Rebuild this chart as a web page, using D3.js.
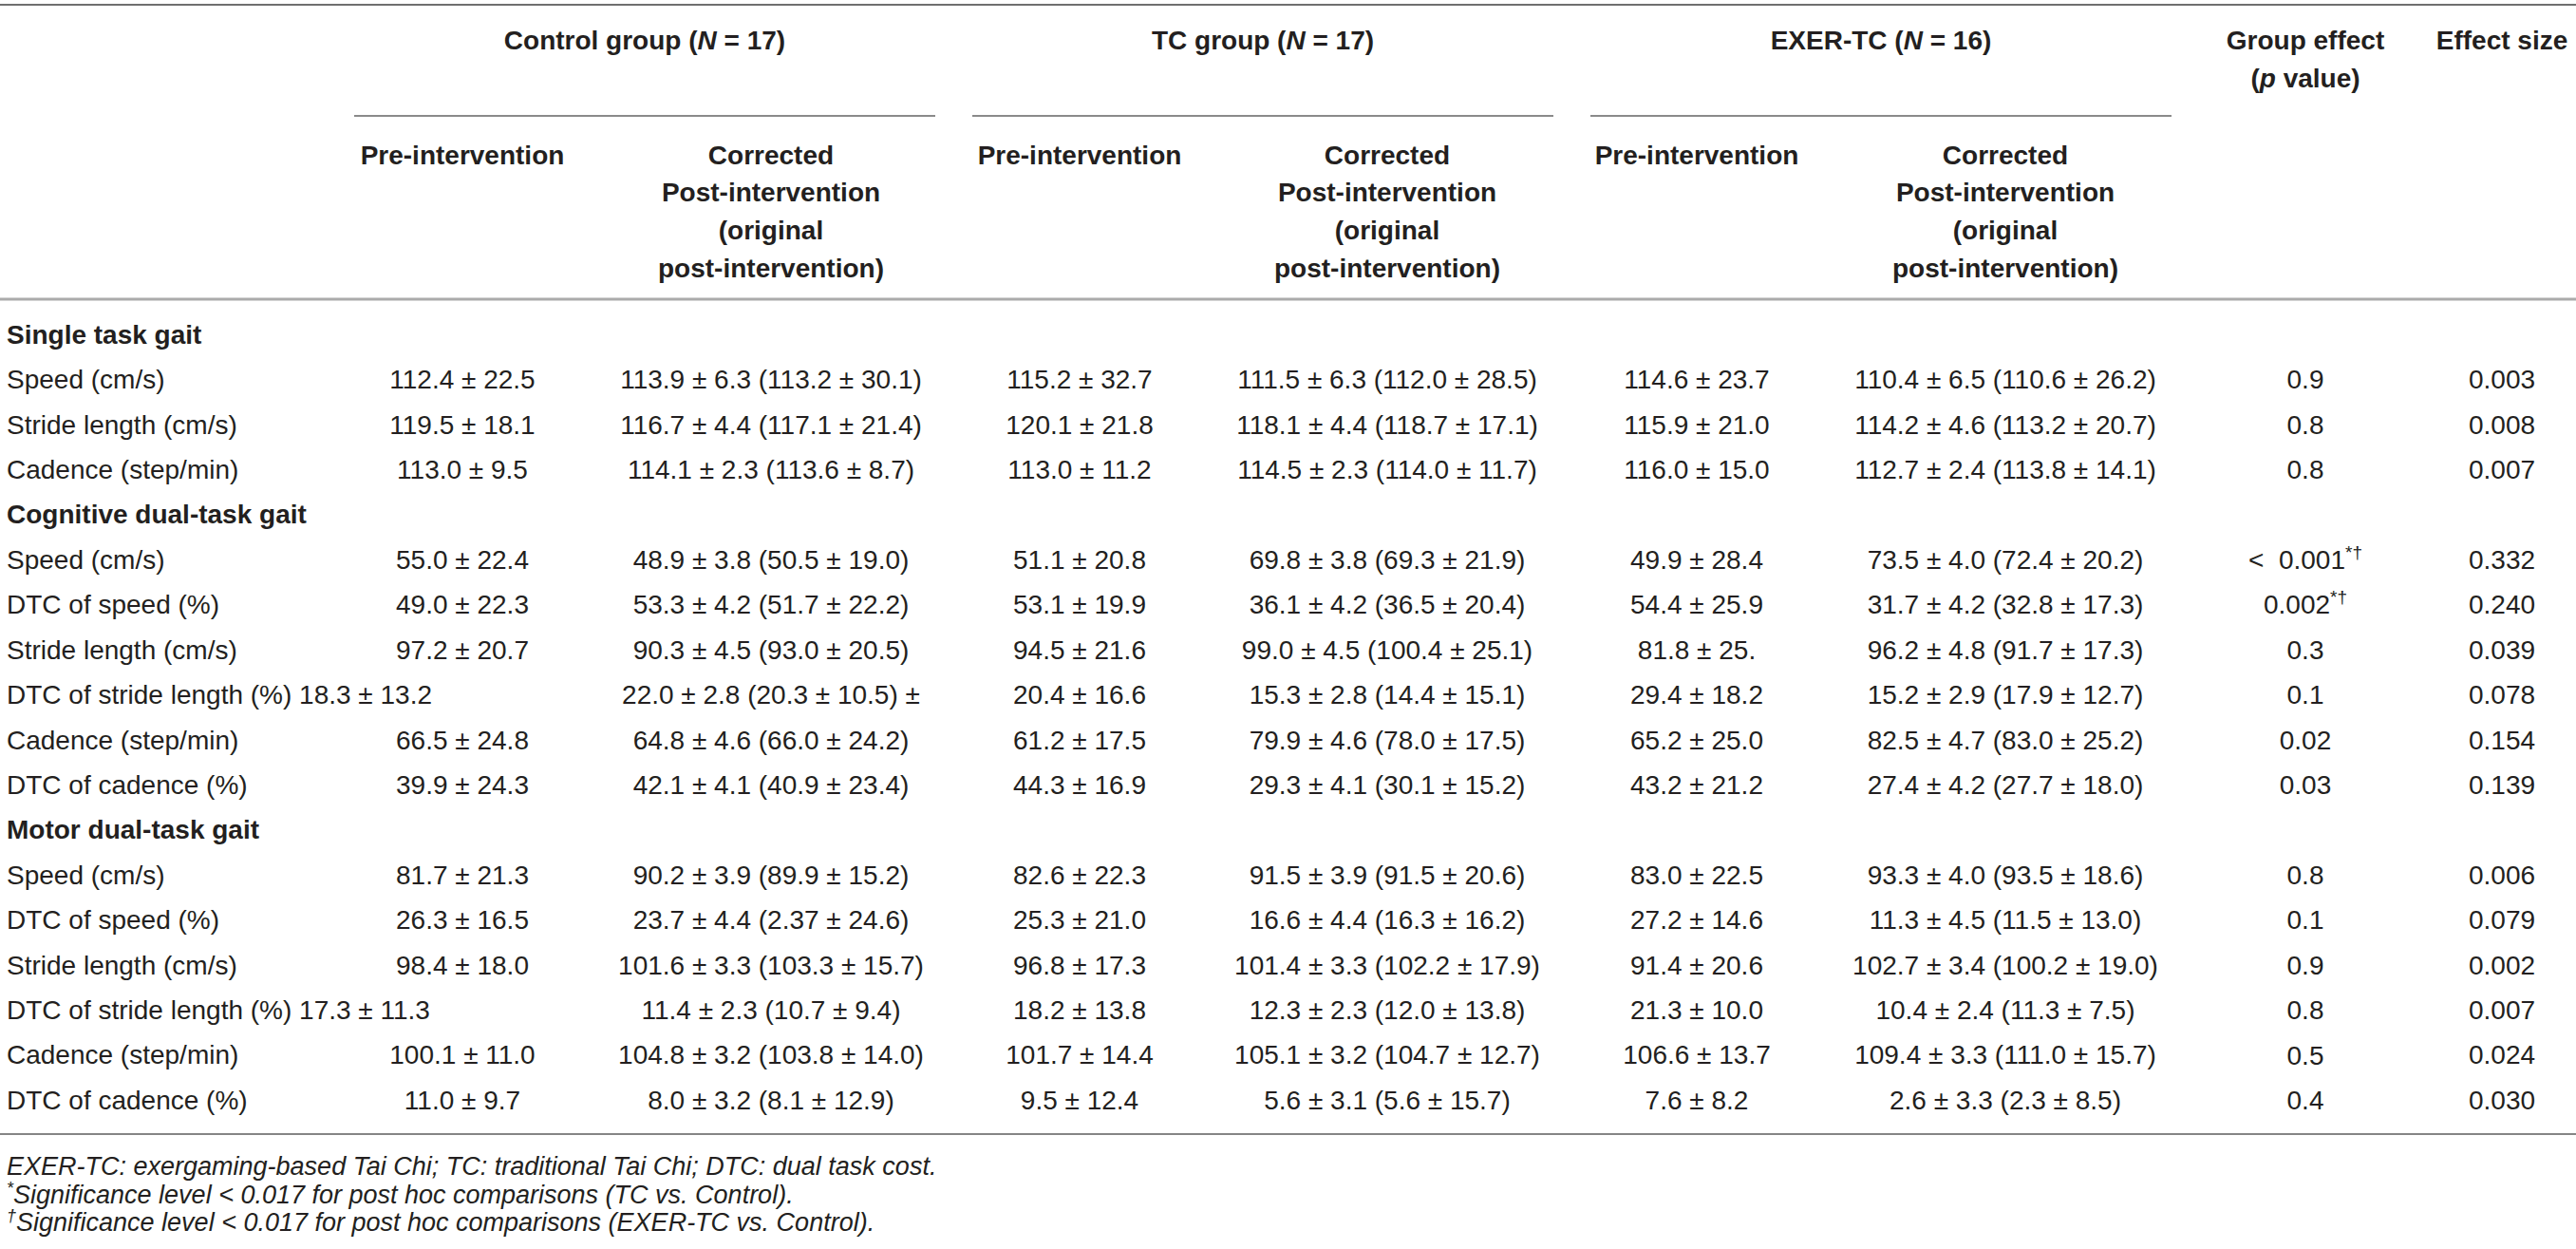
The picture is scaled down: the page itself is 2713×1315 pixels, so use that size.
<!DOCTYPE html>
<html>
<head>
<meta charset="utf-8">
<script src="https://cdn.jsdelivr.net/npm/d3@7"></script>
<style>
  html, body { margin: 0; padding: 0; background: #ffffff; }
  svg { display: block; }
  text { font-family: "Liberation Sans", Arial, Helvetica, sans-serif; fill: #231f20; }
</style>
</head>
<body>
<svg id="chart" width="2713" height="1315"></svg>
<script>
// ---------------- DATA ----------------
const groupNames = ["Control group", "TC group", "EXER-TC"];
const groupN = ["17", "17", "16"];
const subHeaderPre = ["Pre-intervention"];
const subHeaderPost = ["Corrected", "Post-intervention", "(original", "post-intervention)"];

// row type: "section" = bold section title; "row" = data row
const rowTypes = ["section","row","row","row","section","row","row","row","row","row","row","section","row","row","row","row","row","row"];
const rowLabels = [
  "Single task gait", "Speed (cm/s)", "Stride length (cm/s)", "Cadence (step/min)",
  "Cognitive dual-task gait", "Speed (cm/s)", "DTC of speed (%)", "Stride length (cm/s)",
  "DTC of stride length (%) 18.3 \u00b1 13.2", "Cadence (step/min)", "DTC of cadence (%)",
  "Motor dual-task gait", "Speed (cm/s)", "DTC of speed (%)", "Stride length (cm/s)",
  "DTC of stride length (%) 17.3 \u00b1 11.3", "Cadence (step/min)", "DTC of cadence (%)"
];
const controlPre = ["", "112.4 \u00b1 22.5", "119.5 \u00b1 18.1", "113.0 \u00b1 9.5",
  "", "55.0 \u00b1 22.4", "49.0 \u00b1 22.3", "97.2 \u00b1 20.7", "", "66.5 \u00b1 24.8", "39.9 \u00b1 24.3",
  "", "81.7 \u00b1 21.3", "26.3 \u00b1 16.5", "98.4 \u00b1 18.0", "", "100.1 \u00b1 11.0", "11.0 \u00b1 9.7"];
const controlPost = ["", "113.9 \u00b1 6.3 (113.2 \u00b1 30.1)", "116.7 \u00b1 4.4 (117.1 \u00b1 21.4)", "114.1 \u00b1 2.3 (113.6 \u00b1 8.7)",
  "", "48.9 \u00b1 3.8 (50.5 \u00b1 19.0)", "53.3 \u00b1 4.2 (51.7 \u00b1 22.2)", "90.3 \u00b1 4.5 (93.0 \u00b1 20.5)",
  "22.0 \u00b1 2.8 (20.3 \u00b1 10.5) \u00b1", "64.8 \u00b1 4.6 (66.0 \u00b1 24.2)", "42.1 \u00b1 4.1 (40.9 \u00b1 23.4)",
  "", "90.2 \u00b1 3.9 (89.9 \u00b1 15.2)", "23.7 \u00b1 4.4 (2.37 \u00b1 24.6)", "101.6 \u00b1 3.3 (103.3 \u00b1 15.7)",
  "11.4 \u00b1 2.3 (10.7 \u00b1 9.4)", "104.8 \u00b1 3.2 (103.8 \u00b1 14.0)", "8.0 \u00b1 3.2 (8.1 \u00b1 12.9)"];
const tcPre = ["", "115.2 \u00b1 32.7", "120.1 \u00b1 21.8", "113.0 \u00b1 11.2",
  "", "51.1 \u00b1 20.8", "53.1 \u00b1 19.9", "94.5 \u00b1 21.6", "20.4 \u00b1 16.6", "61.2 \u00b1 17.5", "44.3 \u00b1 16.9",
  "", "82.6 \u00b1 22.3", "25.3 \u00b1 21.0", "96.8 \u00b1 17.3", "18.2 \u00b1 13.8", "101.7 \u00b1 14.4", "9.5 \u00b1 12.4"];
const tcPost = ["", "111.5 \u00b1 6.3 (112.0 \u00b1 28.5)", "118.1 \u00b1 4.4 (118.7 \u00b1 17.1)", "114.5 \u00b1 2.3 (114.0 \u00b1 11.7)",
  "", "69.8 \u00b1 3.8 (69.3 \u00b1 21.9)", "36.1 \u00b1 4.2 (36.5 \u00b1 20.4)", "99.0 \u00b1 4.5 (100.4 \u00b1 25.1)",
  "15.3 \u00b1 2.8 (14.4 \u00b1 15.1)", "79.9 \u00b1 4.6 (78.0 \u00b1 17.5)", "29.3 \u00b1 4.1 (30.1 \u00b1 15.2)",
  "", "91.5 \u00b1 3.9 (91.5 \u00b1 20.6)", "16.6 \u00b1 4.4 (16.3 \u00b1 16.2)", "101.4 \u00b1 3.3 (102.2 \u00b1 17.9)",
  "12.3 \u00b1 2.3 (12.0 \u00b1 13.8)", "105.1 \u00b1 3.2 (104.7 \u00b1 12.7)", "5.6 \u00b1 3.1 (5.6 \u00b1 15.7)"];
const exerPre = ["", "114.6 \u00b1 23.7", "115.9 \u00b1 21.0", "116.0 \u00b1 15.0",
  "", "49.9 \u00b1 28.4", "54.4 \u00b1 25.9", "81.8 \u00b1 25.", "29.4 \u00b1 18.2", "65.2 \u00b1 25.0", "43.2 \u00b1 21.2",
  "", "83.0 \u00b1 22.5", "27.2 \u00b1 14.6", "91.4 \u00b1 20.6", "21.3 \u00b1 10.0", "106.6 \u00b1 13.7", "7.6 \u00b1 8.2"];
const exerPost = ["", "110.4 \u00b1 6.5 (110.6 \u00b1 26.2)", "114.2 \u00b1 4.6 (113.2 \u00b1 20.7)", "112.7 \u00b1 2.4 (113.8 \u00b1 14.1)",
  "", "73.5 \u00b1 4.0 (72.4 \u00b1 20.2)", "31.7 \u00b1 4.2 (32.8 \u00b1 17.3)", "96.2 \u00b1 4.8 (91.7 \u00b1 17.3)",
  "15.2 \u00b1 2.9 (17.9 \u00b1 12.7)", "82.5 \u00b1 4.7 (83.0 \u00b1 25.2)", "27.4 \u00b1 4.2 (27.7 \u00b1 18.0)",
  "", "93.3 \u00b1 4.0 (93.5 \u00b1 18.6)", "11.3 \u00b1 4.5 (11.5 \u00b1 13.0)", "102.7 \u00b1 3.4 (100.2 \u00b1 19.0)",
  "10.4 \u00b1 2.4 (11.3 \u00b1 7.5)", "109.4 \u00b1 3.3 (111.0 \u00b1 15.7)", "2.6 \u00b1 3.3 (2.3 \u00b1 8.5)"];
const groupEffect = ["", "0.9", "0.8", "0.8", "", "<  0.001", "0.002", "0.3", "0.1", "0.02", "0.03",
  "", "0.8", "0.1", "0.9", "0.8", "0.5", "0.4"];
const groupEffectSup = ["", "", "", "", "", "*\u2020", "*\u2020", "", "", "", "", "", "", "", "", "", "", ""];
const effectSize = ["", "0.003", "0.008", "0.007", "", "0.332", "0.240", "0.039", "0.078", "0.154", "0.139",
  "", "0.006", "0.079", "0.002", "0.007", "0.024", "0.030"];

const footnoteSup = ["", "*", "\u2020"];
const footnoteText = [
  "EXER-TC: exergaming-based Tai Chi; TC: traditional Tai Chi; DTC: dual task cost.",
  "Significance level < 0.017 for post hoc comparisons (TC vs. Control).",
  "Significance level < 0.017 for post hoc comparisons (EXER-TC vs. Control)."
];

// ---------------- LAYOUT ----------------
const W = 2713, H = 1315;
const svg = d3.select("#chart");
const FS = 28;

const colKeys = ["cPre","cPost","tPre","tPost","ePre","ePost","p","es"];
const colX = d3.scaleOrdinal().domain(colKeys).range([487, 812, 1137, 1461, 1787, 2112, 2428, 2635]);
const groupX = d3.scaleLinear().domain([0, 2]).range([679, 1981]);
const groupRuleHalf = 306;

const yRow = d3.scaleLinear().domain([0, rowLabels.length - 1]).range([352, 1158]);
const yHead = d3.scaleLinear().domain([0, 3]).range([163, 282]);

// Rules
const rules = svg.append("g");
rules.append("line").attr("x1", 0).attr("x2", W).attr("y1", 5).attr("y2", 5)
  .attr("stroke", "#6f6f6f").attr("stroke-width", 2);
rules.append("line").attr("x1", 0).attr("x2", W).attr("y1", 315).attr("y2", 315)
  .attr("stroke", "#ababab").attr("stroke-width", 3);
rules.append("line").attr("x1", 0).attr("x2", W).attr("y1", 1194).attr("y2", 1194)
  .attr("stroke", "#858585").attr("stroke-width", 2);
rules.selectAll(".grule").data(groupNames).enter().append("line")
  .attr("x1", (d, i) => groupX(i) - groupRuleHalf).attr("x2", (d, i) => groupX(i) + groupRuleHalf)
  .attr("y1", 122).attr("y2", 122).attr("stroke", "#8a8a8a").attr("stroke-width", 2);

// Header
const head = svg.append("g").attr("font-weight", "bold").attr("font-size", FS).attr("text-anchor", "middle");
groupNames.forEach((g, i) => {
  const t = head.append("text").attr("x", groupX(i)).attr("y", 42).attr("dy", "0.35em");
  t.append("tspan").text(g + " (");
  t.append("tspan").attr("font-style", "italic").text("N");
  t.append("tspan").text(" = " + groupN[i] + ")");
});
["cPre","tPre","ePre"].forEach(k => {
  head.append("text").attr("x", colX(k)).attr("y", yHead(0)).attr("dy", "0.35em").text(subHeaderPre[0]);
});
["cPost","tPost","ePost"].forEach(k => {
  subHeaderPost.forEach((s, j) => {
    head.append("text").attr("x", colX(k)).attr("y", yHead(j)).attr("dy", "0.35em").text(s);
  });
});
head.append("text").attr("x", colX("p")).attr("y", 42).attr("dy", "0.35em").text("Group effect");
const pv = head.append("text").attr("x", colX("p")).attr("y", 82).attr("dy", "0.35em");
pv.append("tspan").text("(");
pv.append("tspan").attr("font-style", "italic").text("p");
pv.append("tspan").text(" value)");
head.append("text").attr("x", colX("es")).attr("y", 42).attr("dy", "0.35em").text("Effect size");

// Body
const body = svg.append("g").attr("font-size", FS);
const idx = d3.range(rowLabels.length);
body.selectAll(".lab").data(idx).enter().append("text")
  .attr("x", 7).attr("y", i => yRow(i)).attr("dy", "0.35em")
  .attr("font-weight", i => rowTypes[i] === "section" ? "bold" : "normal")
  .text(i => rowLabels[i]);

const cols = [["cPre", controlPre], ["cPost", controlPost], ["tPre", tcPre], ["tPost", tcPost],
              ["ePre", exerPre], ["ePost", exerPost], ["es", effectSize]];
cols.forEach(([k, arr]) => {
  body.selectAll(".c-" + k).data(idx.filter(i => arr[i] !== "")).enter().append("text")
    .attr("x", colX(k)).attr("y", i => yRow(i)).attr("dy", "0.35em")
    .attr("text-anchor", "middle").text(i => arr[i]);
});
idx.filter(i => groupEffect[i] !== "").forEach(i => {
  const t = body.append("text").attr("x", colX("p")).attr("y", yRow(i) + 10)
    .attr("text-anchor", "middle").attr("xml:space", "preserve").style("white-space", "pre");
  t.append("tspan").text(groupEffect[i]);
  if (groupEffectSup[i]) {
    t.append("tspan").attr("font-size", 19).attr("dy", -11).text(groupEffectSup[i]);
  }
});

// Footnotes
const fnY = d3.scaleLinear().domain([0, 2]).range([1228, 1287]);
const fn = svg.append("g").attr("font-size", 27).attr("font-style", "italic");
footnoteText.forEach((txt, i) => {
  const t = fn.append("text").attr("x", 7).attr("y", fnY(i) + 9);
  if (footnoteSup[i]) {
    t.append("tspan").attr("font-size", 18).attr("dy", -10).text(footnoteSup[i]);
    t.append("tspan").attr("dy", 10).text(txt);
  } else {
    t.append("tspan").text(txt);
  }
});
</script>
</body>
</html>
